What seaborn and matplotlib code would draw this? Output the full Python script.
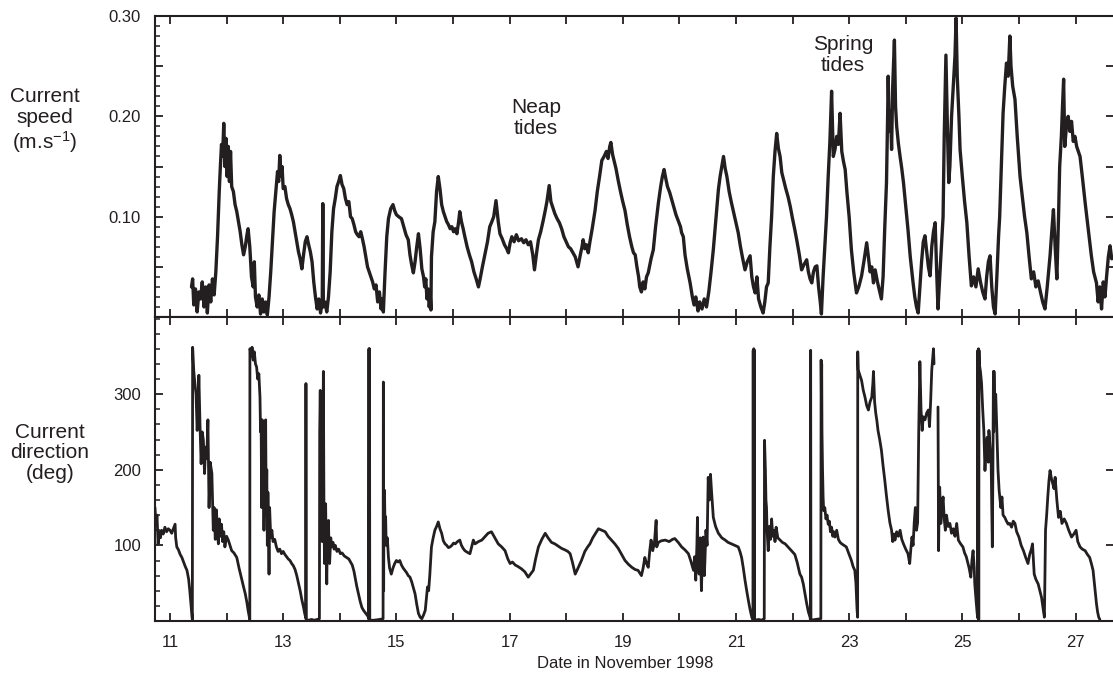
import matplotlib
matplotlib.use("Agg")
import matplotlib.pyplot as plt
import seaborn as sns
import pandas as pd
from matplotlib.ticker import MultipleLocator

# ---------------- data ----------------
# current speed (day in November 1998, m/s)
speed_obs = [
    (11.38, 0.030), (11.40, 0.038), (11.42, 0.012), (11.45, 0.028), (11.48, 0.005), (11.51, 0.025),
    (11.54, 0.018), (11.57, 0.035), (11.60, 0.010), (11.63, 0.030), (11.66, 0.004), (11.69, 0.032),
    (11.72, 0.015), (11.75, 0.038), (11.78, 0.022), (11.81, 0.045), (11.84, 0.080), (11.87, 0.125),
    (11.89, 0.150), (11.91, 0.172), (11.93, 0.160), (11.95, 0.193), (11.97, 0.150), (11.99, 0.178),
    (12.01, 0.140), (12.03, 0.170), (12.05, 0.135), (12.07, 0.165), (12.09, 0.130), (12.12, 0.125),
    (12.15, 0.112), (12.18, 0.105), (12.21, 0.095), (12.24, 0.085), (12.27, 0.072), (12.30, 0.062),
    (12.33, 0.070), (12.36, 0.082), (12.38, 0.088), (12.41, 0.070), (12.44, 0.040), (12.47, 0.030),
    (12.49, 0.055), (12.51, 0.020), (12.54, 0.010), (12.57, 0.022), (12.60, 0.003), (12.63, 0.018),
    (12.66, 0.005), (12.69, 0.015), (12.72, 0.002), (12.75, 0.020), (12.78, 0.045), (12.81, 0.075),
    (12.84, 0.105), (12.87, 0.125), (12.90, 0.145), (12.92, 0.135), (12.94, 0.161), (12.96, 0.140),
    (12.98, 0.150), (13.00, 0.128), (13.03, 0.130), (13.06, 0.118), (13.09, 0.112), (13.12, 0.108),
    (13.15, 0.102), (13.18, 0.095), (13.21, 0.085), (13.24, 0.075), (13.27, 0.065), (13.30, 0.058),
    (13.33, 0.048), (13.36, 0.062), (13.39, 0.075), (13.42, 0.080), (13.45, 0.072), (13.48, 0.065),
    (13.51, 0.055), (13.54, 0.035), (13.57, 0.020), (13.60, 0.008), (13.63, 0.018), (13.66, 0.004),
    (13.69, 0.015), (13.70, 0.113), (13.71, 0.010), (13.74, 0.015), (13.77, 0.005), (13.80, 0.020),
    (13.83, 0.045), (13.86, 0.085), (13.89, 0.108), (13.92, 0.118), (13.95, 0.130), (13.98, 0.135),
    (14.01, 0.141), (14.04, 0.132), (14.07, 0.128), (14.10, 0.118), (14.13, 0.112), (14.16, 0.115),
    (14.19, 0.100), (14.22, 0.098), (14.25, 0.092), (14.28, 0.085), (14.31, 0.082), (14.34, 0.080),
    (14.37, 0.085), (14.40, 0.078), (14.43, 0.070), (14.46, 0.060), (14.49, 0.050), (14.52, 0.045),
    (14.55, 0.040), (14.58, 0.035), (14.61, 0.028), (14.64, 0.032), (14.67, 0.015), (14.70, 0.025),
    (14.73, 0.008), (14.75, 0.018), (14.77, 0.005), (14.80, 0.045), (14.83, 0.080), (14.86, 0.098),
    (14.90, 0.108), (14.94, 0.112),
    (14.97, 0.106), (15.00, 0.102), (15.04, 0.100), (15.09, 0.098), (15.13, 0.090), (15.17, 0.082),
    (15.21, 0.077), (15.24, 0.062), (15.27, 0.052), (15.30, 0.044), (15.33, 0.055), (15.36, 0.070),
    (15.39, 0.083), (15.42, 0.068), (15.45, 0.048), (15.48, 0.040), (15.50, 0.030), (15.52, 0.038),
    (15.54, 0.018), (15.56, 0.028), (15.58, 0.010), (15.60, 0.020), (15.61, 0.007), (15.62, 0.060),
    (15.65, 0.085), (15.68, 0.095), (15.71, 0.125), (15.74, 0.140), (15.77, 0.128), (15.80, 0.112),
    (15.83, 0.105), (15.86, 0.100), (15.89, 0.095), (15.92, 0.092), (15.95, 0.088), (15.98, 0.090),
    (16.01, 0.085), (16.04, 0.088), (16.07, 0.083), (16.10, 0.095), (16.12, 0.105), (16.15, 0.095),
    (16.18, 0.088), (16.21, 0.080), (16.25, 0.070), (16.29, 0.062), (16.33, 0.055), (16.37, 0.045),
    (16.41, 0.038), (16.45, 0.030), (16.48, 0.038), (16.52, 0.050), (16.57, 0.064), (16.61, 0.075),
    (16.65, 0.090), (16.68, 0.094), (16.72, 0.100), (16.76, 0.116), (16.80, 0.095), (16.83, 0.083),
    (16.87, 0.078), (16.91, 0.072), (16.95, 0.068), (16.98, 0.064), (17.01, 0.074), (17.04, 0.080),
    (17.08, 0.075), (17.12, 0.082), (17.16, 0.076), (17.21, 0.078), (17.25, 0.074), (17.29, 0.077),
    (17.33, 0.072), (17.37, 0.075), (17.41, 0.062), (17.44, 0.047), (17.48, 0.065), (17.51, 0.077),
    (17.55, 0.085), (17.59, 0.095), (17.63, 0.106), (17.66, 0.115), (17.70, 0.131), (17.73, 0.115),
    (17.77, 0.108), (17.80, 0.103), (17.84, 0.098), (17.88, 0.094), (17.92, 0.088), (17.96, 0.080),
    (18.00, 0.075), (18.04, 0.070), (18.08, 0.068), (18.12, 0.064), (18.16, 0.060), (18.21, 0.050),
    (18.25, 0.062), (18.28, 0.070), (18.30, 0.077), (18.33, 0.068), (18.36, 0.072), (18.39, 0.064),
    (18.42, 0.075), (18.46, 0.088), (18.51, 0.106), (18.55, 0.125), (18.59, 0.140), (18.63, 0.156),
    (18.67, 0.160), (18.71, 0.165), (18.74, 0.158), (18.77, 0.170), (18.79, 0.174), (18.82, 0.162),
    (18.85, 0.155), (18.88, 0.148), (18.92, 0.136), (18.96, 0.125), (19.00, 0.115), (19.04, 0.106),
    (19.08, 0.092), (19.12, 0.080), (19.16, 0.070), (19.19, 0.064),
    (19.22, 0.062), (19.25, 0.050), (19.28, 0.040), (19.30, 0.030), (19.33, 0.025), (19.36, 0.035),
    (19.39, 0.028), (19.42, 0.040), (19.45, 0.044), (19.50, 0.058), (19.54, 0.067), (19.58, 0.090),
    (19.63, 0.114), (19.67, 0.130), (19.70, 0.140), (19.73, 0.147), (19.76, 0.138), (19.79, 0.130),
    (19.83, 0.124), (19.86, 0.118), (19.90, 0.110), (19.94, 0.102), (19.98, 0.096), (20.02, 0.090),
    (20.04, 0.084), (20.07, 0.080), (20.10, 0.062), (20.14, 0.048), (20.19, 0.034), (20.23, 0.020),
    (20.26, 0.012), (20.29, 0.020), (20.33, 0.006), (20.36, 0.015), (20.40, 0.008), (20.44, 0.018),
    (20.48, 0.010), (20.52, 0.025), (20.56, 0.045), (20.60, 0.067), (20.65, 0.100), (20.69, 0.127),
    (20.72, 0.140), (20.75, 0.150), (20.78, 0.160), (20.81, 0.148), (20.84, 0.140), (20.88, 0.125),
    (20.92, 0.114), (20.96, 0.104), (21.00, 0.094), (21.04, 0.084), (21.08, 0.070), (21.12, 0.058),
    (21.16, 0.047), (21.20, 0.055), (21.25, 0.061), (21.28, 0.040), (21.31, 0.030), (21.34, 0.024),
    (21.37, 0.040), (21.40, 0.018), (21.44, 0.010), (21.48, 0.004), (21.51, 0.015), (21.54, 0.030),
    (21.57, 0.034), (21.60, 0.070), (21.63, 0.100), (21.66, 0.140), (21.69, 0.165), (21.72, 0.183),
    (21.75, 0.168), (21.78, 0.160), (21.81, 0.144), (21.85, 0.135), (21.88, 0.128), (21.92, 0.120),
    (21.96, 0.110), (22.00, 0.098), (22.04, 0.087), (22.08, 0.075), (22.12, 0.062), (22.16, 0.047),
    (22.20, 0.052), (22.25, 0.057), (22.28, 0.045), (22.31, 0.038), (22.34, 0.034), (22.37, 0.045),
    (22.40, 0.050), (22.43, 0.051), (22.46, 0.030), (22.49, 0.015), (22.51, 0.003), (22.54, 0.040),
    (22.57, 0.070), (22.60, 0.100), (22.63, 0.140), (22.66, 0.175), (22.69, 0.225), (22.72, 0.160),
    (22.75, 0.167), (22.78, 0.180), (22.81, 0.172), (22.84, 0.203), (22.87, 0.165), (22.90, 0.155),
    (22.93, 0.147), (22.96, 0.125), (23.00, 0.100), (23.04, 0.067), (23.08, 0.045), (23.13, 0.024),
    (23.17, 0.030), (23.22, 0.041), (23.26, 0.055), (23.31, 0.074), (23.34, 0.060), (23.37, 0.045),
    (23.40, 0.050), (23.43, 0.034),
    (23.46, 0.047), (23.50, 0.035), (23.54, 0.025), (23.57, 0.018), (23.60, 0.040), (23.63, 0.090),
    (23.66, 0.134), (23.68, 0.200), (23.69, 0.240), (23.71, 0.185), (23.73, 0.205), (23.75, 0.167),
    (23.77, 0.230), (23.80, 0.276), (23.82, 0.210), (23.84, 0.190), (23.87, 0.173), (23.90, 0.160),
    (23.93, 0.148), (23.96, 0.134), (24.00, 0.110), (24.04, 0.087), (24.08, 0.060), (24.13, 0.034),
    (24.16, 0.020), (24.19, 0.010), (24.22, 0.004), (24.25, 0.030), (24.28, 0.055), (24.31, 0.075),
    (24.34, 0.081), (24.37, 0.065), (24.40, 0.050), (24.43, 0.041), (24.46, 0.070), (24.49, 0.085),
    (24.52, 0.094), (24.55, 0.040), (24.57, 0.008), (24.60, 0.040), (24.63, 0.070), (24.66, 0.100),
    (24.68, 0.180), (24.71, 0.261), (24.74, 0.180), (24.76, 0.134), (24.78, 0.150), (24.81, 0.200),
    (24.84, 0.230), (24.87, 0.260), (24.89, 0.298), (24.91, 0.240), (24.94, 0.200), (24.96, 0.167),
    (25.00, 0.140), (25.04, 0.115), (25.08, 0.094), (25.12, 0.060), (25.16, 0.031), (25.20, 0.040),
    (25.24, 0.030), (25.28, 0.048), (25.32, 0.035), (25.36, 0.025), (25.40, 0.018), (25.43, 0.040),
    (25.46, 0.055), (25.49, 0.061), (25.52, 0.030), (25.55, 0.010), (25.58, 0.003), (25.61, 0.040),
    (25.64, 0.080), (25.66, 0.100), (25.69, 0.150), (25.72, 0.203), (25.75, 0.230), (25.78, 0.253),
    (25.81, 0.240), (25.84, 0.280), (25.86, 0.250), (25.89, 0.230), (25.93, 0.217), (25.97, 0.180),
    (26.02, 0.140), (26.06, 0.120), (26.10, 0.100), (26.14, 0.084), (26.18, 0.060), (26.22, 0.038),
    (26.26, 0.045), (26.30, 0.030), (26.34, 0.036), (26.38, 0.025), (26.42, 0.015), (26.46, 0.008),
    (26.50, 0.030), (26.55, 0.061), (26.58, 0.085), (26.61, 0.107), (26.64, 0.070), (26.67, 0.038),
    (26.70, 0.100), (26.72, 0.150), (26.75, 0.180), (26.77, 0.210), (26.79, 0.237), (26.81, 0.170),
    (26.84, 0.190), (26.87, 0.200), (26.90, 0.185), (26.93, 0.195), (26.96, 0.175), (26.99, 0.180),
    (27.02, 0.170), (27.05, 0.165), (27.08, 0.160), (27.12, 0.140), (27.17, 0.114), (27.22, 0.090),
    (27.28, 0.061), (27.32, 0.045), (27.37, 0.034), (27.40, 0.015), (27.43, 0.030), (27.46, 0.008),
    (27.49, 0.035), (27.52, 0.020), (27.55, 0.041), (27.58, 0.060), (27.61, 0.071), (27.64, 0.058),
]

# current direction (day, degrees) - first record block
direction_obs_a = [
    (10.735, 150), (10.75, 128), (10.77, 140), (10.79, 102), (10.81, 118), (10.83, 110), (10.85, 120),
    (10.88, 115), (10.91, 124), (10.94, 118), (10.97, 122), (11.00, 120), (11.03, 116), (11.06, 122),
    (11.09, 128), (11.10, 110), (11.12, 98), (11.15, 94), (11.18, 88), (11.21, 84), (11.24, 78),
    (11.27, 72), (11.30, 67), (11.33, 55), (11.35, 40), (11.37, 22), (11.39, 5), (11.395, 2),
    (11.40, 362), (11.42, 330), (11.44, 314), (11.46, 300), (11.48, 252), (11.50, 290), (11.51, 325),
    (11.53, 260), (11.55, 208), (11.57, 250), (11.59, 239), (11.61, 195), (11.63, 230), (11.65, 215),
    (11.67, 266), (11.69, 150), (11.71, 210), (11.74, 195), (11.765, 120), (11.78, 150), (11.80, 108),
    (11.82, 147), (11.84, 115), (11.855, 102), (11.87, 135), (11.89, 112), (11.91, 128), (11.93, 105),
    (11.95, 118), (11.97, 98), (12.00, 112), (12.03, 107), (12.06, 100), (12.09, 93), (12.13, 90),
    (12.18, 84), (12.22, 70), (12.27, 54), (12.30, 45), (12.33, 36), (12.36, 24), (12.38, 14),
    (12.40, 6), (12.41, 2), (12.412, 360), (12.42, 358), (12.44, 350), (12.45, 362), (12.47, 345),
    (12.49, 356), (12.51, 340), (12.53, 336), (12.55, 320), (12.57, 327), (12.59, 296), (12.60, 250),
    (12.61, 266), (12.62, 150), (12.63, 266), (12.64, 180), (12.65, 240), (12.66, 120), (12.67, 220),
    (12.68, 160), (12.69, 266), (12.70, 140), (12.71, 200), (12.72, 100), (12.73, 170), (12.74, 125),
    (12.75, 62), (12.76, 150), (12.78, 110), (12.80, 120), (12.82, 105), (12.85, 108), (12.88, 98),
    (12.91, 92), (12.94, 95), (12.97, 89), (13.00, 92), (13.03, 88), (13.06, 85), (13.09, 82),
    (13.12, 80), (13.15, 76), (13.18, 73), (13.21, 68), (13.24, 60), (13.27, 50), (13.30, 40),
    (13.33, 28), (13.36, 18), (13.38, 10), (13.40, 4), (13.402, 314), (13.405, 2), (13.45, 1),
    (13.50, 2), (13.55, 1), (13.60, 2), (13.64, 3), (13.645, 250), (13.655, 305), (13.665, 200),
    (13.675, 290), (13.69, 105), (13.70, 220), (13.71, 330), (13.72, 150), (13.73, 76), (13.74, 120),
    (13.75, 155), (13.76, 90), (13.77, 49), (13.78, 110), (13.79, 80), (13.80, 133), (13.81, 95),
    (13.82, 76), (13.84, 110), (13.86, 98), (13.88, 104), (13.90, 95), (13.92, 100), (13.95, 92),
    (13.98, 95), (14.01, 89), (14.04, 90), (14.08, 86), (14.12, 84), (14.16, 82), (14.19, 78),
    (14.22, 74), (14.25, 66), (14.27, 58), (14.30, 46), (14.33, 36), (14.36, 26), (14.39, 18),
    (14.42, 14), (14.45, 11), (14.48, 8), (14.50, 6), (14.51, 3), (14.515, 360), (14.52, 2),
    (14.525, 360), (14.53, 1), (14.60, 1), (14.70, 2), (14.765, 3), (14.77, 316), (14.775, 40),
    (14.78, 150), (14.79, 173), (14.80, 120), (14.81, 138), (14.82, 100), (14.84, 110), (14.86, 84),
    (14.88, 70), (14.91, 62), (14.94, 70), (14.97, 76), (15.00, 80), (15.03, 78), (15.06, 80),
    (15.09, 74), (15.12, 70), (15.15, 67), (15.18, 64), (15.21, 60), (15.24, 58), (15.27, 52),
    (15.30, 44), (15.33, 36), (15.36, 22), (15.39, 10), (15.42, 5), (15.45, 3), (15.48, 8),
    (15.51, 14), (15.53, 30), (15.55, 45), (15.57, 40), (15.59, 60), (15.62, 98), (15.65, 110),
    (15.68, 120), (15.71, 125), (15.74, 131), (15.77, 122), (15.80, 116), (15.83, 106), (15.86, 102),
    (15.89, 100), (15.92, 97), (15.95, 98), (15.98, 100), (16.01, 103), (16.04, 102), (16.08, 105),
    (16.12, 107), (16.15, 100), (16.18, 96), (16.21, 93), (16.25, 91), (16.30, 89), (16.33, 98),
    (16.36, 107), (16.39, 102), (16.45, 105), (16.51, 107), (16.57, 112), (16.62, 116), (16.68, 118),
    (16.74, 110), (16.80, 102), (16.86, 98), (16.92, 93), (16.97, 82), (17.01, 76), (17.05, 78),
    (17.10, 74), (17.15, 72), (17.21, 69), (17.27, 65), (17.33, 58), (17.37, 62), (17.42, 67),
    (17.46, 82), (17.51, 98), (17.57, 108), (17.63, 116), (17.68, 110), (17.74, 104), (17.80, 102),
    (17.86, 99), (17.92, 96), (17.98, 94), (18.03, 92), (18.07, 89), (18.11, 78), (18.16, 62),
    (18.21, 70), (18.27, 80), (18.33, 92), (18.38, 98), (18.42, 102), (18.47, 110), (18.52, 116),
    (18.57, 122), (18.63, 120), (18.69, 118), (18.74, 112), (18.80, 107), (18.86, 102), (18.92, 96),
    (18.98, 88), (19.04, 80), (19.10, 75), (19.16, 71), (19.22, 68), (19.27, 67), (19.33, 60),
    (19.36, 70), (19.39, 84), (19.42, 76), (19.45, 71), (19.48, 95), (19.50, 107), (19.53, 93),
    (19.56, 104), (19.59, 133), (19.60, 98), (19.63, 104), (19.68, 106), (19.75, 107), (19.82, 105),
    (19.88, 108), (19.92, 109), (19.98, 104), (20.04, 98), (20.10, 94), (20.16, 89), (20.20, 80),
    (20.25, 67), (20.27, 85), (20.29, 54), (20.31, 100), (20.32, 137), (20.33, 80), (20.35, 62),
    (20.37, 110), (20.39, 40), (20.41, 95), (20.42, 111), (20.44, 60), (20.45, 76), (20.47, 120),
    (20.49, 100), (20.51, 190), (20.53, 160), (20.55, 194), (20.57, 170), (20.60, 137), (20.64, 125),
    (20.69, 116), (20.75, 110), (20.81, 107), (20.86, 104), (20.92, 102), (20.98, 100), (21.04, 98),
    (21.07, 92), (21.10, 84), (21.13, 70), (21.16, 54), (21.19, 40), (21.22, 27), (21.25, 15),
    (21.28, 5), (21.30, 2), (21.305, 358), (21.31, 3), (21.315, 360), (21.32, 2), (21.325, 358),
    (21.33, 1), (21.40, 2), (21.45, 1), (21.50, 3), (21.505, 239), (21.52, 200), (21.53, 160),
    (21.54, 150), (21.55, 120), (21.57, 93), (21.59, 125), (21.61, 108), (21.63, 135), (21.65, 112),
    (21.67, 120), (21.69, 105), (21.71, 124), (21.74, 110), (21.78, 107), (21.82, 104), (21.87, 102),
    (21.92, 98), (21.98, 93), (22.04, 88), (22.08, 78), (22.13, 62), (22.16, 58), (22.19, 49),
    (22.22, 36), (22.25, 23), (22.28, 12), (22.31, 5), (22.315, 2), (22.32, 358), (22.325, 2),
    (22.33, 1), (22.40, 2), (22.50, 3), (22.505, 345), (22.51, 300), (22.515, 340), (22.52, 252),
    (22.53, 200), (22.54, 164), (22.55, 146), (22.57, 150), (22.59, 135), (22.61, 140), (22.63, 128),
    (22.65, 132), (22.67, 118), (22.69, 124), (22.71, 112), (22.73, 118), (22.75, 111), (22.78, 120),
    (22.81, 108), (22.84, 104), (22.87, 102), (22.91, 100), (22.95, 98), (22.99, 90), (23.04, 80),
    (23.07, 72), (23.10, 67), (23.12, 50), (23.13, 31), (23.14, 15), (23.15, 5), (23.152, 356),
    (23.16, 332), (23.19, 325), (23.22, 318), (23.25, 305), (23.28, 296), (23.31, 285), (23.34, 279),
    (23.37, 290), (23.40, 296), (23.42, 315), (23.43, 330), (23.45, 290), (23.47, 275), (23.49, 265),
    (23.51, 252), (23.54, 240), (23.57, 226), (23.60, 205), (23.63, 186), (23.66, 165), (23.69, 146),
    (23.72, 130), (23.75, 120), (23.77, 105), (23.79, 115), (23.81, 107), (23.84, 118), (23.87, 112),
    (23.90, 120), (23.93, 108), (23.96, 102), (24.00, 95), (24.04, 89), (24.07, 76), (24.09, 95),
    (24.11, 111), (24.13, 100), (24.15, 130), (24.17, 150), (24.19, 120), (24.21, 130), (24.23, 252),
    (24.25, 343), (24.27, 280), (24.29, 252), (24.31, 270), (24.34, 266), (24.37, 275), (24.40, 279),
    (24.42, 257), (24.44, 290), (24.46, 332), (24.48, 350), (24.49, 360), (24.50, 340),
]

# current direction - second record block (after the short gap)
direction_obs_b = [
    (24.57, 283), (24.575, 200), (24.58, 93), (24.59, 150), (24.60, 177), (24.62, 129), (24.64, 150),
    (24.66, 164), (24.68, 135), (24.70, 120), (24.72, 140), (24.75, 125), (24.78, 129), (24.81, 116),
    (24.84, 122), (24.87, 112), (24.90, 129), (24.93, 107), (24.97, 102), (25.01, 98), (25.04, 90),
    (25.07, 85), (25.10, 76), (25.12, 70), (25.15, 58), (25.17, 80), (25.19, 93), (25.21, 70),
    (25.22, 49), (25.24, 30), (25.26, 12), (25.27, 5), (25.275, 358), (25.28, 3), (25.285, 360),
    (25.29, 2), (25.295, 358), (25.30, 340), (25.32, 330), (25.34, 314), (25.36, 280), (25.38, 252),
    (25.40, 199), (25.42, 230), (25.44, 243), (25.46, 210), (25.47, 252), (25.49, 230), (25.51, 208),
    (25.52, 150), (25.53, 98), (25.54, 200), (25.55, 330), (25.555, 250), (25.56, 330), (25.57, 280),
    (25.59, 300), (25.61, 252), (25.63, 200), (25.65, 173), (25.68, 150), (25.70, 164), (25.72, 140),
    (25.75, 137), (25.78, 132), (25.81, 128), (25.84, 129), (25.87, 124), (25.90, 132), (25.93, 129),
    (25.96, 118), (26.00, 111), (26.04, 100), (26.08, 93), (26.12, 84), (26.16, 76), (26.19, 88),
    (26.22, 95), (26.24, 102), (26.26, 75), (26.27, 62), (26.30, 55), (26.34, 49), (26.37, 40),
    (26.40, 31), (26.43, 15), (26.45, 5), (26.46, 60), (26.47, 120), (26.49, 140), (26.51, 164),
    (26.53, 185), (26.55, 199), (26.57, 190), (26.60, 181), (26.62, 175), (26.64, 190), (26.67, 160),
    (26.70, 137), (26.73, 145), (26.76, 129), (26.80, 135), (26.84, 129), (26.88, 120), (26.93, 111),
    (26.97, 115), (27.01, 120), (27.04, 105), (27.08, 98), (27.12, 95), (27.17, 93), (27.21, 88),
    (27.25, 84), (27.28, 76), (27.31, 67), (27.34, 45), (27.37, 23), (27.39, 12), (27.41, 5),
    (27.43, 2),
]

day_ticks = list(range(11, 28))
day_tick_labels = [str(d) if d % 2 == 1 else "" for d in day_ticks]
speed_ticks = [0.05, 0.10, 0.15, 0.20, 0.25, 0.30]
speed_tick_labels = ["", "0.10", "", "0.20", "", "0.30"]
dir_ticks = [100, 200, 300]
dir_tick_labels = ["100", "200", "300"]

# ---------------- styling ----------------
sns.set_style("ticks")
plt.rcParams["font.family"] = ["Liberation Sans", "DejaVu Sans"]
plt.rcParams["mathtext.fontset"] = "custom"
plt.rcParams["mathtext.rm"] = "Liberation Sans"
plt.rcParams["mathtext.it"] = "Liberation Sans:italic"

INK = "#231f20"
W, H = 1113, 681

speed_df = pd.DataFrame(speed_obs, columns=["day", "speed"])
dir_df = pd.concat([
    pd.DataFrame(direction_obs_a, columns=["day", "deg"]).assign(block=0),
    pd.DataFrame(direction_obs_b, columns=["day", "deg"]).assign(block=1),
], ignore_index=True)

fig = plt.figure(figsize=(W / 100, H / 100), dpi=100)
left = 155 / W
width = (1114 - 155) / W
ax1 = fig.add_axes([left, 1 - 317 / H, width, (317 - 16) / H])
ax2 = fig.add_axes([left, 1 - 621 / H, width, (621 - 317) / H])

sns.lineplot(data=speed_df, x="day", y="speed", ax=ax1, color=INK, lw=2.4,
             estimator=None, sort=False, legend=False)
sns.lineplot(data=dir_df, x="day", y="deg", units="block", ax=ax2, color=INK, lw=2.0,
             estimator=None, sort=False, legend=False)

xmin, xmax = 10.735, 27.68
for ax in (ax1, ax2):
    ax.set_xlim(xmin, xmax)
    ax.set_xlabel("")
    ax.set_ylabel("")
    for s in ax.spines.values():
        s.set_linewidth(1.5)
        s.set_color(INK)
        s.set_visible(True)
    ax.set_xticks(day_ticks)
    ax.tick_params(which="major", direction="in", length=6, width=1.3, color=INK,
                   top=True, right=True, bottom=True, left=True,
                   labelsize=12, labelcolor=INK, pad=10)
    ax.tick_params(which="minor", direction="in", length=3.5, width=1.1, color=INK,
                   left=True, right=False, top=False, bottom=False)
    ax.set_facecolor("white")

ax1.set_ylim(0, 0.30)
ax1.set_yticks(speed_ticks)
ax1.set_yticklabels(speed_tick_labels)
ax1.yaxis.set_minor_locator(MultipleLocator(0.01))
ax1.tick_params(labelbottom=False)

ax2.set_ylim(0, 402)
ax2.set_yticks(dir_ticks)
ax2.set_yticklabels(dir_tick_labels)
ax2.yaxis.set_minor_locator(MultipleLocator(20))
ax2.set_xticklabels(day_tick_labels)

def px(x, y):
    return x / W, 1 - y / H

fig.text(*px(45, 121), "Current\nspeed\n(m.s$^{-1}$)", ha="center", va="center",
         fontsize=15, color=INK, linespacing=1.1, multialignment="center")
fig.text(*px(50, 453), "Current\ndirection\n(deg)", ha="center", va="center",
         fontsize=15, color=INK, linespacing=1.1, multialignment="center")
fig.text(*px(536, 118), "Neap\ntides", ha="center", va="center",
         fontsize=15, color=INK, linespacing=1.1, multialignment="center")
fig.text(*px(843, 55), "Spring\ntides", ha="center", va="center",
         fontsize=15, color=INK, linespacing=1.1, multialignment="center")
fig.text(*px(625, 663), "Date in November 1998", ha="center", va="center",
         fontsize=12, color=INK)

fig.savefig("out.png", dpi=100, facecolor="white")
